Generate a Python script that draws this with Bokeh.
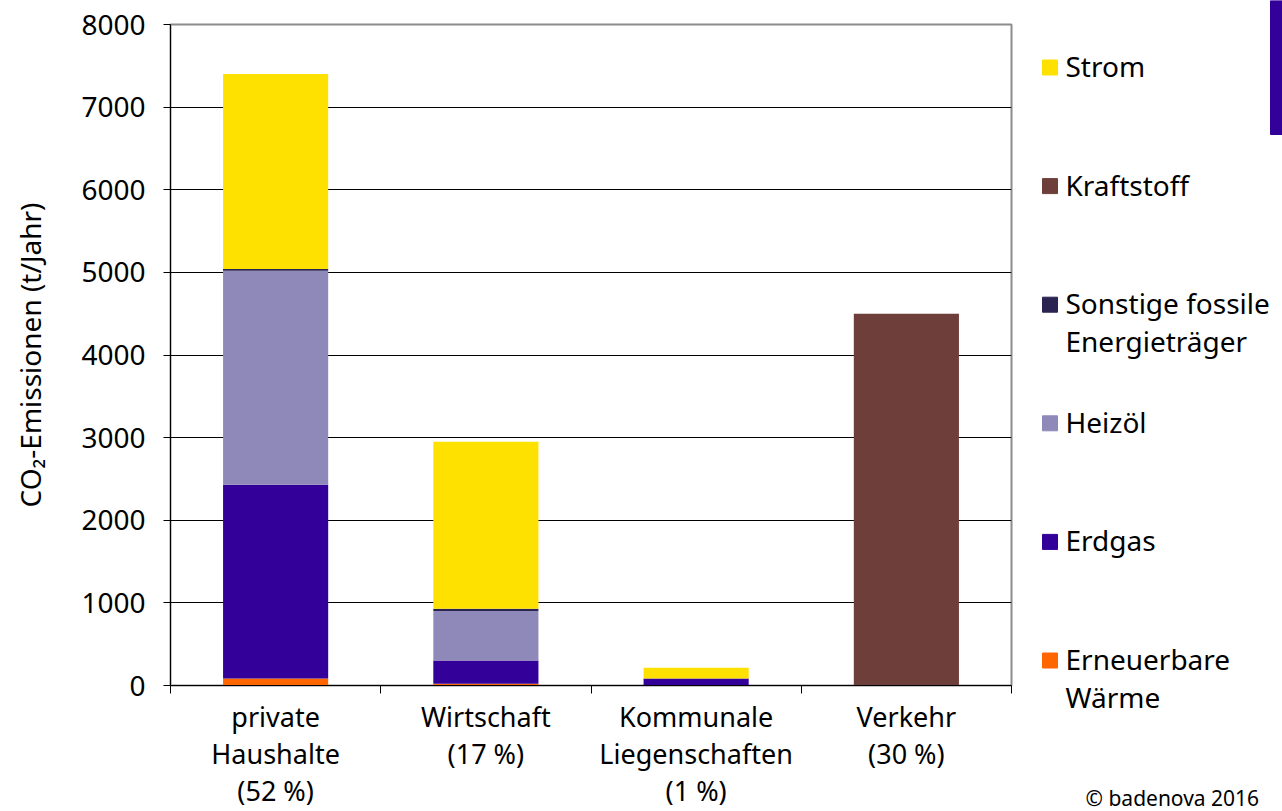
from bokeh.plotting import figure
from bokeh.models import Range1d, FixedTicker, ColumnDataSource
from bokeh.core.properties import value
from bokeh.embed import file_html
from bokeh.resources import INLINE

# Sectors (x axis) and their CO2 emissions per energy carrier in t/Jahr
sectors = ["private\nHaushalte\n(52 %)", "Wirtschaft\n(17 %)",
           "Kommunale\nLiegenschaften\n(1 %)", "Verkehr\n(30 %)"]
carriers = ["Erneuerbare Wärme", "Erdgas", "Heizöl",
            "Sonstige fossile Energieträger", "Kraftstoff", "Strom"]
legend_labels = ["Erneuerbare\nWärme", "Erdgas", "Heizöl",
                 "Sonstige fossile\nEnergieträger", "Kraftstoff", "Strom"]
erneuerbare = [85, 20, 0, 0]
erdgas = [2345, 282, 85, 0]
heizoel = [2590, 601, 0, 0]
sonstige = [20, 27, 0, 0]
kraftstoff = [0, 0, 0, 4500]
strom = [2360, 2020, 130, 0]
y_ticks = [0, 1000, 2000, 3000, 4000, 5000, 6000, 7000, 8000]
colors = ["#FF6600", "#330099", "#8F89B9", "#2B2350", "#6E3E3B", "#FFE100"]

FONT = "Noto Sans"
TXT = "28px"

series = [erneuerbare, erdgas, heizoel, sonstige, kraftstoff, strom]
keys = ["k%d" % i for i in range(len(carriers))]
x_pos = [i + 0.5 for i in range(len(sectors))]
data = {"x": x_pos}
for k, s in zip(keys, series):
    data[k] = s
source = ColumnDataSource(data)

# ---- main chart -------------------------------------------------------------
p = figure(width=1030, height=811, x_range=Range1d(0, len(sectors)),
           y_range=Range1d(0, 8000), output_backend="svg", toolbar_location=None,
           tools="", min_border_left=170, min_border_right=19,
           min_border_top=24, min_border_bottom=125)

p.vbar_stack(keys, x="x", width=0.5, fill_color=colors, line_color=None,
             source=source)

yax = p.yaxis[0]
yax.ticker = FixedTicker(ticks=y_ticks, minor_ticks=[])
yax.axis_label = "CO₂-Emissionen (t/Jahr)"
yax.axis_label_text_font = FONT
yax.axis_label_text_font_size = TXT
yax.axis_label_text_font_style = "normal"
yax.axis_label_text_color = "black"
yax.axis_label_standoff = 29
yax.major_label_text_font = FONT
yax.major_label_text_font_size = TXT
yax.major_label_text_color = "black"
yax.major_label_standoff = 18
yax.major_tick_out = 7
yax.major_tick_in = 0
yax.major_tick_line_color = "black"
yax.axis_line_color = "black"

# labels at bar centres, ticks at sector boundaries
xax = p.xaxis[0]
xax.ticker = FixedTicker(ticks=x_pos, minor_ticks=list(range(len(sectors) + 1)))
xax.major_label_overrides = {x: s for x, s in zip(x_pos, sectors)}
xax.major_label_text_font = FONT
xax.major_label_text_font_size = "27px"
xax.major_label_text_color = "black"
xax.major_label_text_line_height = 1.0
xax.major_label_standoff = 4
xax.major_tick_out = 0
xax.major_tick_in = 0
xax.minor_tick_out = 8
xax.minor_tick_in = 0
xax.minor_tick_line_color = "black"
xax.axis_line_color = "black"

p.xgrid.visible = False
p.ygrid.ticker = FixedTicker(ticks=y_ticks)
p.ygrid.grid_line_color = "black"
p.ygrid.grid_line_width = 1
p.outline_line_color = "#8C8C8C"
p.outline_line_width = 2
p.background_fill_color = "white"
p.border_fill_color = "white"

# ---- side panel: legend, corner mark, copyright (page pixel coordinates) ----
side = figure(width=252, height=811, x_range=Range1d(1030, 1282),
              y_range=Range1d(811, 0), output_backend="svg",
              toolbar_location=None, tools="", x_axis_location=None,
              y_axis_location=None, min_border=0)
side.grid.visible = False
side.outline_line_color = None

order = list(range(len(carriers)))[::-1]          # Strom at the top
item_y = [67 + 118.6 * i for i in range(len(order))]
side.rect(x=[1049.5] * len(order), y=item_y, width=15, height=15,
          color=[colors[i] for i in order])
side.text(x=[1065] * len(order), y=[y - 20.5 for y in item_y],
          text=[legend_labels[i] for i in order],
          text_font=value(FONT), text_font_size=TXT, text_color="black",
          text_baseline="top", text_align="left", text_line_height=1.0)

side.quad(left=[1270], right=[1282], top=[0], bottom=[134], color="#330099")
side.text(x=[1085], y=[797], text=["© badenova 2016"], text_font=value(FONT),
          text_font_size="21px", text_color="black", text_baseline="middle",
          text_align="left")

# both roots side by side on the page
page_css = ("<style>html, body { margin: 0; padding: 0; } "
            "body { display: flex; flex-direction: row; align-items: flex-start; }"
            "</style>")
html = file_html([p, side], INLINE)
html = html.replace("</head>", page_css + "</head>", 1)
open("out.html", "w").write(html)
